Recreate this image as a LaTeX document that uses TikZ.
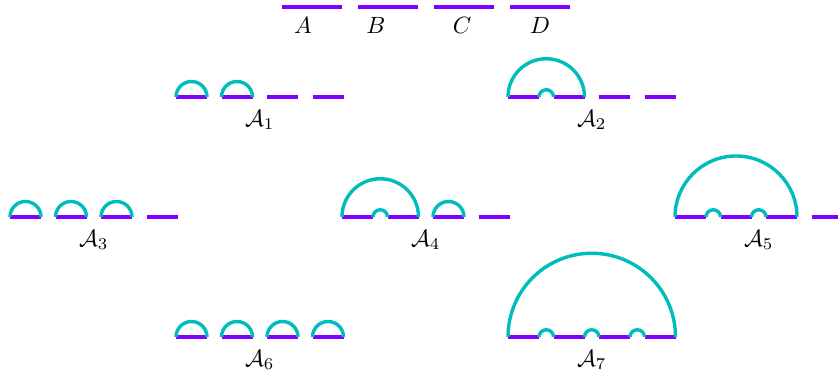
\documentclass[tikz,border=0pt]{standalone}
\usepackage{amsmath,amssymb}
\usepackage{xcolor}
\definecolor{vio}{HTML}{8000FF}
\definecolor{tea}{HTML}{00BDBD}
\usepackage{tikz}
\tikzset{
  wire/.style={draw=vio,line width=1.7pt},
  link/.style={draw=tea,line width=1.45pt},
  lab/.style={font=\normalsize,inner sep=0pt},
}
\begin{document}
\begin{tikzpicture}[x=0.425pt,y=0.425pt]
\useasboundingbox (0,0) rectangle (838,379);
% the four intervals
\foreach \i in {0,...,3} \draw[wire] (282+76*\i,372) -- ++(60,0);
\node[lab] (lA) at (303,354) {$A$};
\node[lab] (lB) at (376,354) {$B$};
\node[lab] (lC) at (462,354) {$C$};
\node[lab] (lD) at (540,354) {$D$};
% segments of every diagram
\foreach \x/\y in {176/282,508/282,10/162,342/162,675/162,176/42,508/42}
  \foreach \i in {0,...,3} \draw[wire] (\x+45.5*\i,\y) -- ++(31,0);
% A1
\foreach \i in {0,1} \draw[link] (176+45.5*\i,282) arc[start angle=180,end angle=0,radius=15.5];
% A2
\draw[link] (508,282) arc[start angle=180,end angle=0,radius=38.25];
\draw[link] (539,282) arc[start angle=180,end angle=0,radius=7.25];
% A3
\foreach \i in {0,1,2} \draw[link] (10+45.5*\i,162) arc[start angle=180,end angle=0,radius=15.5];
% A4
\draw[link] (342,162) arc[start angle=180,end angle=0,radius=38.25];
\draw[link] (373,162) arc[start angle=180,end angle=0,radius=7.25];
\draw[link] (433,162) arc[start angle=180,end angle=0,radius=15.5];
% A5
\draw[link] (675,162) arc[start angle=180,end angle=0,radius=61];
\foreach \i in {0,1} \draw[link] (706+45.5*\i,162) arc[start angle=180,end angle=0,radius=7.25];
% A6
\foreach \i in {0,...,3} \draw[link] (176+45.5*\i,42) arc[start angle=180,end angle=0,radius=15.5];
% A7
\draw[link] (508,42) arc[start angle=180,end angle=0,radius=83.75];
\foreach \i in {0,1,2} \draw[link] (539+45.5*\i,42) arc[start angle=180,end angle=0,radius=7.25];
% names
\node[lab] (a1) at (259.75,259) {$\mathcal{A}_1$};
\node[lab] (a2) at (591.75,259) {$\mathcal{A}_2$};
\node[lab] (a3) at (93.75,139) {$\mathcal{A}_3$};
\node[lab] (a4) at (425.75,139) {$\mathcal{A}_4$};
\node[lab] (a5) at (758.75,139) {$\mathcal{A}_5$};
\node[lab] (a6) at (259.75,19) {$\mathcal{A}_6$};
\node[lab] (a7) at (591.75,19) {$\mathcal{A}_7$};
\end{tikzpicture}
\end{document}
